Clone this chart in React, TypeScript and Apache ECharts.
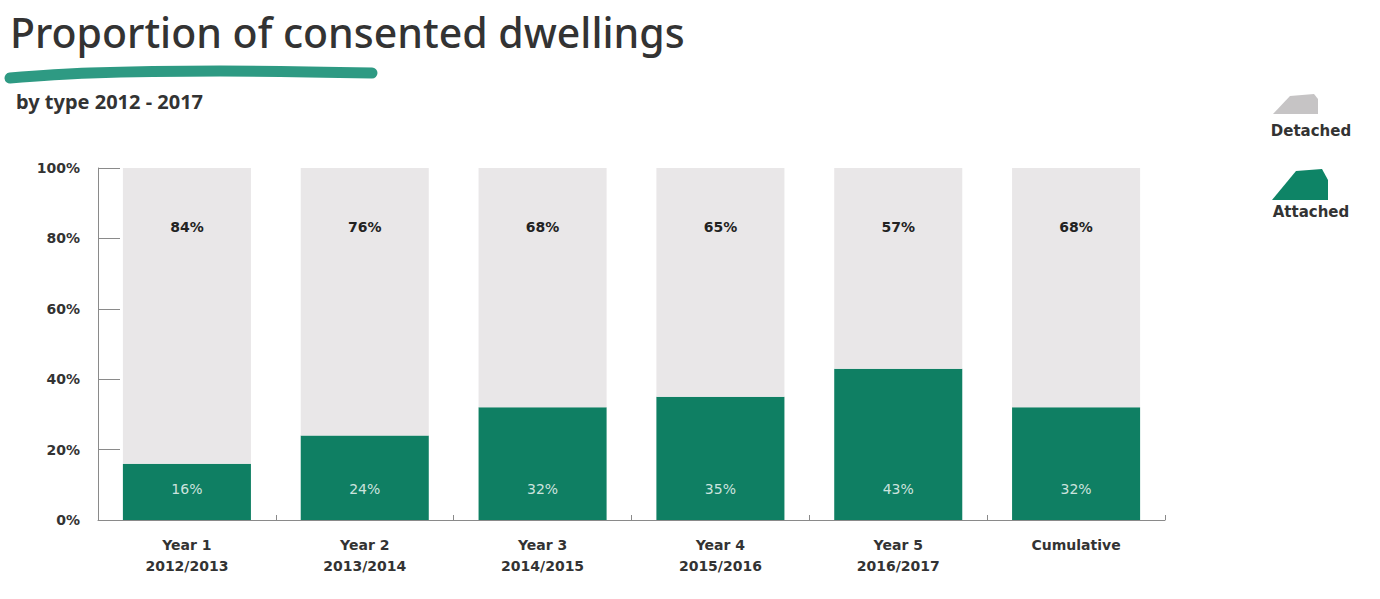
import React, { useEffect, useRef } from "react";
import * as echarts from "echarts";

const categories = [
  "Year 1\n2012/2013",
  "Year 2\n2013/2014",
  "Year 3\n2014/2015",
  "Year 4\n2015/2016",
  "Year 5\n2016/2017",
  "Cumulative",
];
const attached = [16, 24, 32, 35, 43, 32];
const detached = [84, 76, 68, 65, 57, 68];
const yTicks = [0, 20, 40, 60, 80, 100];

const GREEN = "#0f7f63";
const GREY = "#e9e7e8";
const FONT = "'Noto Sans', 'Open Sans', sans-serif";
const LFONT = "'DejaVu Sans', sans-serif";

export default function App() {
  const ref = useRef<HTMLDivElement>(null);
  useEffect(() => {
    document.body.style.margin = "0";
    const chart = echarts.init(ref.current!, null, { renderer: "svg" });
    chart.setOption({
      animation: false,
      backgroundColor: "#ffffff",
      grid: { left: 98, right: 215, top: 168, bottom: 79 },
      xAxis: {
        type: "category",
        data: categories,
        axisLine: { lineStyle: { color: "#8a8a8a", width: 1 } },
        axisTick: { show: true, inside: true, length: 5, lineStyle: { color: "#8a8a8a" } },
        axisLabel: {
          color: "#333",
          fontFamily: LFONT,
          fontWeight: "bold",
          fontSize: 14,
          lineHeight: 21,
          margin: 14,
        },
      },
      yAxis: {
        type: "value",
        min: yTicks[0],
        max: yTicks[yTicks.length - 1],
        interval: 20,
        axisLine: { show: true, lineStyle: { color: "#8a8a8a", width: 1 } },
        axisTick: { show: true, inside: true, length: 22, lineStyle: { color: "#8a8a8a" } },
        splitLine: { show: false },
        axisLabel: {
          color: "#333",
          fontFamily: LFONT,
          fontWeight: "bold",
          fontSize: 14,
          margin: 18,
          formatter: (v: number) => v + "%",
        },
      },
      series: [
        {
          name: "Attached",
          type: "bar",
          stack: "total",
          data: attached,
          barCategoryGap: "28%",
          itemStyle: { color: GREEN },
          label: {
            show: true,
            position: "insideBottom",
            distance: 24,
            color: "rgba(255,255,255,0.8)",
            fontFamily: LFONT,
            fontSize: 14,
            formatter: (p: any) => p.value + "%",
          },
        },
        {
          name: "Detached",
          type: "bar",
          stack: "total",
          data: detached,
          barCategoryGap: "28%",
          itemStyle: { color: GREY },
          label: {
            show: true,
            position: "insideTop",
            distance: 52,
            color: "#222",
            fontFamily: LFONT,
            fontWeight: "bold",
            fontSize: 14,
            formatter: (p: any) => p.value + "%",
          },
        },
      ],
      graphic: [
        {
          type: "text",
          left: 10,
          top: 11,
          style: {
            text: "Proportion of consented dwellings",
            font: "500 41px " + FONT,
            fill: "#333",
          },
        },
        {
          type: "polyline",
          shape: {
            points: [
              [10, 78],
              [90, 73],
              [220, 71],
              [372, 73],
            ],
            smooth: 0.4,
          },
          style: { stroke: "#2e9a83", lineWidth: 11, lineCap: "round", fill: null },
        },
        {
          type: "text",
          left: 16,
          top: 91,
          style: {
            text: "by type 2012 - 2017",
            font: "bold 20px " + FONT,
            fill: "#333",
          },
        },
        {
          type: "polygon",
          shape: {
            points: [
              [1273, 114],
              [1290, 96],
              [1314, 94],
              [1318, 99],
              [1318, 114],
            ],
          },
          style: { fill: "#c6c4c5" },
        },
        {
          type: "text",
          x: 1311,
          y: 131,
          style: {
            text: "Detached",
            font: "bold 15px " + LFONT,
            fill: "#333",
            align: "center",
            verticalAlign: "middle",
          },
        },
        {
          type: "polygon",
          shape: {
            points: [
              [1272, 200],
              [1296, 171],
              [1322, 169],
              [1328, 180],
              [1328, 200],
            ],
          },
          style: { fill: "#0e8466" },
        },
        {
          type: "text",
          x: 1311,
          y: 212,
          style: {
            text: "Attached",
            font: "bold 15px " + LFONT,
            fill: "#333",
            align: "center",
            verticalAlign: "middle",
          },
        },
      ],
    });
    return () => chart.dispose();
  }, []);
  return <div ref={ref} style={{ width: 1380, height: 599 }} />;
}
